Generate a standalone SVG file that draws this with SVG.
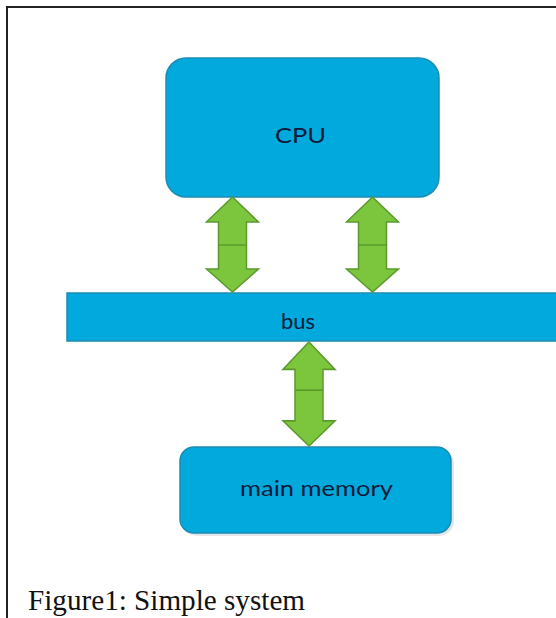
<svg xmlns="http://www.w3.org/2000/svg" width="556" height="618" viewBox="0 0 556 618">
<style>
.box{fill:#02a9dc;stroke:#1a8db4;stroke-width:1.5}
.lbl{font-family:Lato,"Open Sans",sans-serif;fill:#0c1a3a;text-anchor:middle}
.arr{fill:#7cc63d;stroke:#5a9a2c;stroke-width:1.5;stroke-linejoin:miter}
.mid{stroke:#5a9a2c;stroke-width:1.5}
</style>
<defs>
<path id="dblarrow" d="M0,0 L26,25 L14,25 L14,72 L26,72 L0,95 L-26,72 L-14,72 L-14,25 L-26,25 Z"/>
</defs>
<rect width="556" height="618" fill="#ffffff"/>
<path d="M7,618 V7 H556" fill="none" stroke="#222" stroke-width="2"/>
<g id="cpu">
<rect class="box" x="166" y="58" width="273" height="139" rx="20"/>
<text class="lbl" x="300.5" y="143" font-size="22" textLength="51" lengthAdjust="spacingAndGlyphs">CPU</text>
</g>
<g id="bus">
<rect class="box" x="67" y="293" width="495" height="48"/>
<text class="lbl" x="298" y="329" font-size="22" textLength="34" lengthAdjust="spacingAndGlyphs">bus</text>
</g>
<g id="memory">
<rect x="182" y="449" width="272" height="87" rx="15" fill="#d8dde0" opacity="0.7"/>
<rect class="box" x="180" y="447" width="271" height="86" rx="14" stroke="#ffffff" stroke-width="1.5"/>
<text class="lbl" x="316.5" y="496" font-size="22" textLength="153" lengthAdjust="spacingAndGlyphs">main memory</text>
</g>
<g id="connectors">
<g transform="translate(232.5,197)">
<use href="#dblarrow" class="arr"/>
<line class="mid" x1="-14" y1="48" x2="14" y2="48"/>
</g>
<g transform="translate(372.5,197)">
<use href="#dblarrow" class="arr"/>
<line class="mid" x1="-14" y1="48" x2="14" y2="48"/>
</g>
<g transform="translate(309,342) scale(1,1.095)">
<use href="#dblarrow" class="arr"/>
<line class="mid" x1="-14" y1="44" x2="14" y2="44"/>
</g>
</g>
<text x="28" y="610" font-family="'Liberation Serif','Times New Roman',serif" font-size="29" fill="#111" textLength="277" lengthAdjust="spacingAndGlyphs">Figure1: Simple system</text>
</svg>
